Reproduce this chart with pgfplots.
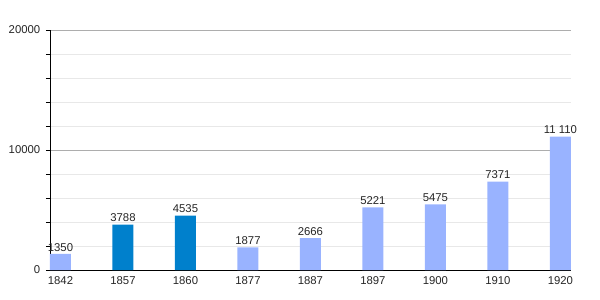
\documentclass[border=0pt]{standalone}
\usepackage{pgfplots}
\pgfplotsset{compat=1.18}
\usepackage{fontspec}
\setmainfont{Liberation Sans}
\definecolor{lb}{HTML}{99B3FF}
\definecolor{db}{HTML}{0080CC}
\begin{document}
\begin{tikzpicture}
\begin{axis}[name=ax, at={(0,0)}, anchor=south west,
  scale only axis, width=390.75pt, height=180pt,
  xmin=-0.168, xmax=8.17, ymin=0, ymax=20000,
  xtick={0,...,8},
  xticklabels={1842,1857,1860,1877,1887,1897,1900,1910,1920},
  xtick style={draw=none},
  ytick={0,10000,20000},
  minor ytick={2000,4000,6000,8000,12000,14000,16000,18000},
  ymajorgrids, yminorgrids,
  major grid style={draw=black!32, line width=0.6pt},
  minor grid style={draw=black!9, line width=0.6pt},
  axis x line*=bottom, axis y line*=left,
  axis line style={black, line width=0.6pt},
  tick align=outside, major tick length=3pt, minor tick length=3pt,
  ytick style={black, line width=0.6pt},
  scaled ticks=false,
  /pgf/number format/1000 sep={},
  /pgf/number format/assume math mode=true,
  tick label style={font=\fontsize{8.5}{10}\selectfont, text=black!85},
  yticklabel style={xshift=-0.8pt},
  xticklabel style={yshift=1.5pt},
  ybar, bar width=15.75pt, bar shift=0pt,
  point meta=explicit symbolic,
  nodes near coords,
  nodes near coords style={font=\fontsize{8.5}{10}\selectfont, text=black!85, inner sep=1.8pt},
  clip=false,
]
\addplot[fill=lb, draw=none] coordinates {
  (0,1350) [1350]
  (3,1877) [1877]
  (4,2666) [2666]
  (5,5221) [5221]
  (6,5475) [5475]
  (7,7371) [7371]
  (8,11110) [11~110]
};
\addplot[fill=db, draw=none] coordinates {
  (1,3788) [3788]
  (2,4535) [4535]
};
\end{axis}
\pgfresetboundingbox
\useasboundingbox (ax.south west) ++(-37.5pt,-22.5pt) rectangle ++(450pt,225pt);
\end{tikzpicture}
\end{document}
